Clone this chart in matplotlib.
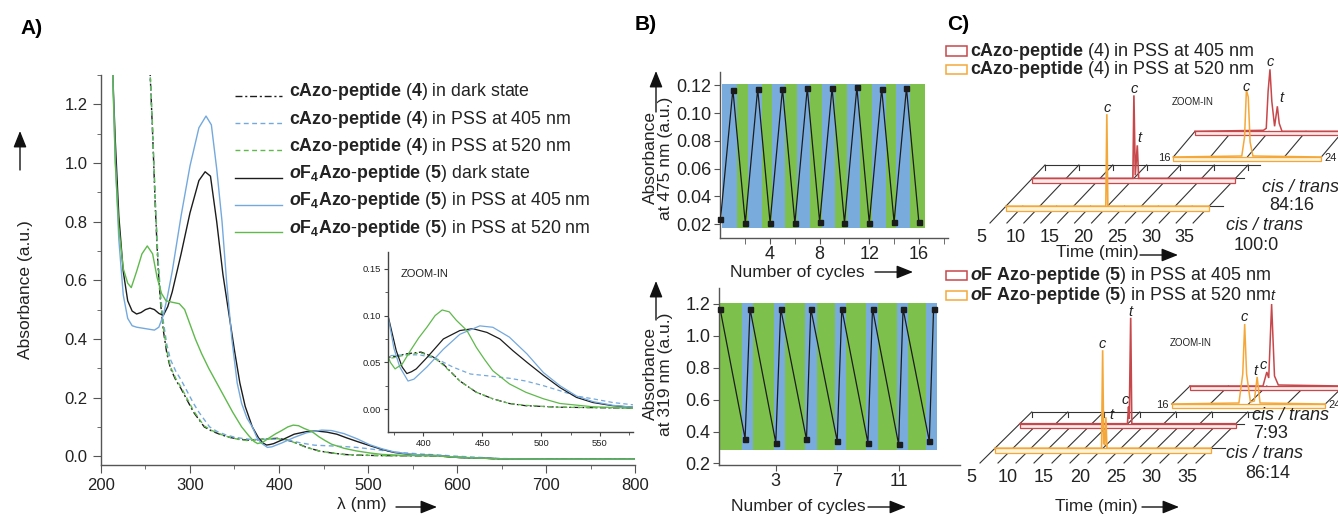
import matplotlib
matplotlib.use('Agg')
import matplotlib.pyplot as plt
from matplotlib.lines import Line2D
from matplotlib.patches import Rectangle, FancyArrowPatch
from matplotlib.transforms import Affine2D
from matplotlib.ticker import MultipleLocator, FormatStrFormatter, FixedLocator

plt.rcParams['font.family'] = ['Liberation Sans', 'DejaVu Sans']
plt.rcParams['mathtext.fontset'] = 'custom'
plt.rcParams['mathtext.rm'] = 'Liberation Sans'
plt.rcParams['mathtext.bf'] = 'Liberation Sans:bold'
plt.rcParams['mathtext.it'] = 'Liberation Sans:italic'
plt.rcParams['mathtext.bfit'] = 'Liberation Sans:italic:bold'

# ================= Panel A : UV-vis spectra =================
wl_c4_dark = [255, 258, 261, 264, 267, 270, 274, 278, 284, 290, 297, 304, 310, 316, 325, 335, 345, 355, 365, 375,
              385, 398, 408, 417, 431, 445, 459, 473, 487, 516, 578, 600, 650, 700, 800]
abs_c4_dark = [1.32, 1.10, 0.85, 0.65, 0.52, 0.43, 0.35, 0.30, 0.26, 0.23, 0.19, 0.15, 0.125, 0.10, 0.085, 0.073,
               0.064, 0.058, 0.055, 0.056, 0.059, 0.061, 0.056, 0.048, 0.030, 0.018, 0.011, 0.006, 0.0036, 0.002,
               0.001, -0.004, -0.009, -0.010, -0.010]

wl_c4_405 = [255, 258, 261, 264, 267, 270, 274, 278, 284, 290, 297, 304, 310, 316, 322, 330, 340, 350, 360, 370,
             383, 397, 411, 425, 440, 459, 473, 487, 502, 516, 530, 544, 561, 578, 600, 650, 700, 800]
abs_c4_405 = [1.32, 1.10, 0.87, 0.68, 0.55, 0.46, 0.38, 0.33, 0.29, 0.26, 0.22, 0.18, 0.15, 0.125, 0.10, 0.085,
              0.073, 0.065, 0.060, 0.057, 0.058, 0.058, 0.054, 0.045, 0.0375, 0.035, 0.033, 0.030, 0.025, 0.0196,
              0.014, 0.011, 0.007, 0.0046, 0.000, -0.008, -0.010, -0.010]

wl_c4_520 = [255, 258, 261, 264, 267, 270, 274, 278, 284, 290, 297, 304, 310, 316, 325, 335, 345, 355, 365, 375,
             385, 398, 408, 417, 431, 445, 459, 473, 487, 516, 578, 600, 650, 700, 800]
abs_c4_520 = [1.32, 1.12, 0.87, 0.66, 0.53, 0.44, 0.36, 0.305, 0.265, 0.235, 0.195, 0.155, 0.128, 0.103, 0.087,
              0.074, 0.064, 0.057, 0.053, 0.055, 0.058, 0.060, 0.056, 0.047, 0.030, 0.018, 0.011, 0.006, 0.004,
              0.002, 0.001, -0.004, -0.009, -0.010, -0.010]

wl_f5_dark = [213, 216, 220, 225, 230, 235, 240, 245, 250, 255, 260, 265, 270, 275, 280, 290, 300, 310, 317, 323,
              330, 337, 344, 350, 356, 362, 370, 377, 382, 386, 390, 394, 403, 417, 431, 442, 454, 465, 476, 488,
              502, 516, 530, 544, 561, 578, 600, 650, 700, 800]
abs_f5_dark = [1.32, 1.08, 0.82, 0.63, 0.53, 0.495, 0.485, 0.49, 0.50, 0.505, 0.50, 0.487, 0.48, 0.51, 0.56, 0.69,
               0.83, 0.94, 0.97, 0.955, 0.80, 0.62, 0.48, 0.36, 0.25, 0.17, 0.10, 0.0625, 0.045, 0.038, 0.040,
               0.043, 0.055, 0.075, 0.084, 0.086, 0.082, 0.075, 0.0625, 0.050, 0.036, 0.023, 0.0125, 0.007,
               0.0036, 0.002, -0.004, -0.009, -0.010, -0.010]

wl_f5_405 = [213, 216, 220, 225, 230, 235, 240, 250, 260, 265, 270, 275, 280, 290, 300, 310, 318, 324, 330, 336,
             341, 347, 353, 358, 364, 370, 375, 380, 387, 392, 403, 417, 431, 448, 459, 473, 488, 502, 516, 530,
             544, 561, 578, 600, 650, 700, 800]
abs_f5_405 = [1.32, 1.02, 0.74, 0.55, 0.47, 0.445, 0.44, 0.435, 0.43, 0.44, 0.48, 0.55, 0.63, 0.82, 0.99, 1.12,
              1.16, 1.13, 0.98, 0.80, 0.60, 0.40, 0.25, 0.18, 0.13, 0.10, 0.065, 0.045, 0.030, 0.032, 0.045, 0.064,
              0.080, 0.089, 0.0875, 0.077, 0.059, 0.039, 0.025, 0.014, 0.008, 0.004, 0.002, -0.003, -0.009,
              -0.010, -0.010]

wl_f5_520 = [213, 216, 220, 225, 230, 234, 240, 246, 252, 258, 263, 268, 273, 280, 288, 294, 300, 306, 313, 321,
             330, 339, 348, 358, 366, 372, 376, 382, 389, 396, 403, 410, 416, 422, 428, 437, 445, 452, 459, 473,
             487, 502, 516, 544, 578, 600, 650, 700, 800]
abs_f5_520 = [1.32, 1.00, 0.78, 0.64, 0.59, 0.575, 0.63, 0.69, 0.717, 0.69, 0.61, 0.555, 0.53, 0.525, 0.52, 0.50,
              0.45, 0.40, 0.35, 0.30, 0.25, 0.20, 0.15, 0.10, 0.07, 0.05, 0.043, 0.048, 0.0625, 0.076, 0.0875,
              0.100, 0.106, 0.104, 0.095, 0.084, 0.066, 0.053, 0.041, 0.027, 0.018, 0.011, 0.006, 0.0025, 0.001,
              -0.004, -0.009, -0.010, -0.010]

labels_A = [
    r"$\mathbf{cAzo}$-$\mathbf{peptide}$ ($\mathbf{4}$) in dark state",
    r"$\mathbf{cAzo}$-$\mathbf{peptide}$ ($\mathbf{4}$) in PSS at 405 nm",
    r"$\mathbf{cAzo}$-$\mathbf{peptide}$ ($\mathbf{4}$) in PSS at 520 nm",
    r"$\mathbfit{o}\mathbf{F}_{\mathbf{4}}\mathbf{Azo}$-$\mathbf{peptide}$ ($\mathbf{5}$) dark state",
    r"$\mathbfit{o}\mathbf{F}_{\mathbf{4}}\mathbf{Azo}$-$\mathbf{peptide}$ ($\mathbf{5}$) in PSS at 405 nm",
    r"$\mathbfit{o}\mathbf{F}_{\mathbf{4}}\mathbf{Azo}$-$\mathbf{peptide}$ ($\mathbf{5}$) in PSS at 520 nm",
]

# ================= Panel B : switching cycles =================
cycles_475 = [0, 1, 2, 3, 4, 5, 6, 7, 8, 9, 10, 11, 12, 13, 14, 15, 16]
abs_475 = [0.0236, 0.117, 0.0207, 0.1175, 0.021, 0.1175, 0.0207, 0.118, 0.0215, 0.118, 0.021, 0.1185, 0.021,
           0.1175, 0.0215, 0.118, 0.0215]
bands_475 = [0.1, 1.31, 2.24, 3.32, 4.13, 5.2, 6.15, 7.22, 8.16, 9.23, 10.18, 11.25, 12.19, 13.35, 14.15, 15.28, 16.49]

cycles_319 = [-0.63, 1, 1.32, 3, 3.32, 5, 5.28, 7, 7.3, 9, 9.3, 11, 11.29, 13, 13.28]
abs_319 = [1.17, 0.355, 1.17, 0.33, 1.17, 0.35, 1.17, 0.34, 1.17, 0.33, 1.17, 0.32, 1.17, 0.34, 1.17]
bands_319 = [-0.63, 0.82, 1.54, 2.89, 3.61, 4.91, 5.68, 6.87, 7.59, 8.89, 9.63, 10.89, 11.59, 12.79, 13.5]

# ================= Panel C : HPLC traces =================
c4_405_t = [5, 19.85, 20.0, 20.2, 20.5, 20.7, 35]
c4_405_I = [0, 0, 83, 3, 33, 0, 0]
c4_520_t = [5, 19.75, 19.9, 20.05, 35]
c4_520_I = [0, 0, 92, 0, 0]
c4_405_zoom_t = [16, 19.7, 19.85, 19.95, 20.05, 20.15, 20.3, 20.45, 20.55, 20.7, 24]
c4_405_zoom_I = [0, 1, 3, 40, 62, 30, 5, 25, 8, 0, 0]
c4_520_zoom_t = [16, 19.7, 19.85, 19.95, 20.05, 20.15, 20.3, 24]
c4_520_zoom_I = [0, 1, 20, 67, 60, 15, 1, 0]
f5_405_t = [5, 19.95, 20.1, 20.2, 20.4, 20.55, 35]
f5_405_I = [0, 0, 17, 5, 106, 0, 0]
f5_520_t = [5, 19.8, 19.95, 20.1, 20.25, 20.4, 20.55, 35]
f5_520_I = [0, 0, 98, 5, 3, 31, 0, 0]
f5_405_zoom_t = [16, 19.8, 20.0, 20.1, 20.25, 20.4, 20.6, 24]
f5_405_zoom_I = [0, 0, 14, 8, 82, 10, 1, 0]
f5_520_zoom_t = [16, 19.5, 19.7, 19.8, 19.9, 20.1, 20.3, 20.45, 20.6, 24]
f5_520_zoom_I = [0, 1, 30, 80, 30, 2, 3, 27, 1, 0]
time_ticks = [5, 10, 15, 20, 25, 30, 35]
zoom_ticks = [16, 18, 20, 22, 24]

# ================= figure =================
W, H = 1338, 517
fig = plt.figure(figsize=(W / 100, H / 100), dpi=100)
fig.patch.set_facecolor('white')


def px_axes(l, t, r, b):
    return fig.add_axes([l / W, 1 - b / H, (r - l) / W, (b - t) / H])


def F(x, y):
    return (x / W, 1 - y / H)


def ftext(x, y, s, **kw):
    return fig.text(x / W, 1 - y / H, s, **kw)


def arrow(x0, y0, x1, y1):
    fig.add_artist(FancyArrowPatch(F(x0, y0), F(x1, y1), transform=fig.transFigure,
                                   arrowstyle='-|>,head_length=1.0,head_width=0.4', mutation_scale=10,
                                   color='#111111', lw=1.0, shrinkA=0, shrinkB=0))


AX_GRAY = '#555555'
BLACK = '#1c1c1c'
BLUE = '#74a9dd'
GREEN = '#5fb94c'
BAND_BLUE = '#79acdc'
BAND_GREEN = '#7dc04b'
RED = '#c8474a'
ORANGE = '#f5a83a'
RED_FILL = '#fbeaea'
ORANGE_FILL = '#fef3dc'

dashdot = (0, (5, 2, 1.5, 2))
dashed = (0, (3.5, 2.5))
series_A = [
    (wl_c4_dark, abs_c4_dark, BLACK, dashdot),
    (wl_c4_405, abs_c4_405, BLUE, dashed),
    (wl_c4_520, abs_c4_520, GREEN, dashed),
    (wl_f5_dark, abs_f5_dark, BLACK, '-'),
    (wl_f5_405, abs_f5_405, BLUE, '-'),
    (wl_f5_520, abs_f5_520, GREEN, '-'),
]


def style_axes(ax, fs, color=AX_GRAY):
    for s in ('top', 'right'):
        ax.spines[s].set_visible(False)
    for s in ('left', 'bottom'):
        ax.spines[s].set_color(color)
        ax.spines[s].set_linewidth(1.0)
    ax.tick_params(which='both', direction='out', color=color, labelsize=fs, labelcolor='#222222')


# ---------- Panel A ----------
axA = px_axes(101, 75, 635, 465)
for wl, a, c, ls in series_A:
    axA.plot(wl, a, color=c, ls=ls, lw=1.0)
axA.set_xlim(200, 800)
axA.set_ylim(-0.03, 1.30)
style_axes(axA, 12)
axA.xaxis.set_major_locator(MultipleLocator(100))
axA.xaxis.set_minor_locator(MultipleLocator(50))
axA.yaxis.set_major_locator(MultipleLocator(0.2))
axA.yaxis.set_minor_locator(MultipleLocator(0.1))
axA.yaxis.set_major_formatter(FormatStrFormatter('%.1f'))
axA.tick_params(which='major', length=6)
axA.tick_params(which='minor', length=3)

for i, ((wl, a, c, ls), lab) in enumerate(zip(series_A, labels_A)):
    y = 92 + i * 27.2
    fig.add_artist(Line2D([235 / W, 282 / W], [1 - (y + 4) / H] * 2, color=c, ls=ls, lw=1.0))
    ftext(289, y, lab, fontsize=12.8, va='center', ha='left', color='#222222')

axI = px_axes(388, 252, 633, 432)
for wl, a, c, ls in series_A:
    axI.plot(wl, a, color=c, ls=ls, lw=0.9)
axI.set_xlim(370, 578)
axI.set_ylim(-0.0245, 0.168)
style_axes(axI, 6.8, color='#444444')
axI.xaxis.set_major_locator(MultipleLocator(50))
axI.xaxis.set_minor_locator(MultipleLocator(25))
axI.yaxis.set_major_locator(MultipleLocator(0.05))
axI.yaxis.set_minor_locator(MultipleLocator(0.025))
axI.yaxis.set_major_formatter(FormatStrFormatter('%.2f'))
axI.tick_params(which='major', length=3, pad=2)
axI.tick_params(which='minor', length=2)
axI.patch.set_alpha(0)
axI.text(0.05, 0.88, 'ZOOM-IN', transform=axI.transAxes, fontsize=8, color='#222222', va='center')

ftext(20, 28, 'A)', fontsize=15, fontweight='bold', va='center')
ftext(26, 290, 'Absorbance (a.u.)', fontsize=12.5, rotation=90, va='center', ha='center', color='#222222')
arrow(20, 170, 20, 131)
ftext(362, 505, 'λ (nm)', fontsize=12.5, va='center', ha='center', color='#222222')
arrow(396, 507, 437, 507)

# ---------- Panel B ----------
axB1 = px_axes(720, 72, 948, 238)
for i in range(len(bands_475) - 1):
    axB1.fill_between([bands_475[i], bands_475[i + 1]], 0.0171, 0.1212,
                      color=BAND_BLUE if i % 2 == 0 else BAND_GREEN, lw=0, zorder=1)
axB1.plot(cycles_475, abs_475, color=BLACK, lw=0.9, marker='s', ms=3.6, zorder=3, clip_on=False)
axB1.set_xlim(-0.04, 18.35)
axB1.set_ylim(0.0101, 0.1296)
style_axes(axB1, 13)
axB1.xaxis.set_major_locator(FixedLocator([4, 8, 12, 16]))
axB1.xaxis.set_minor_locator(FixedLocator([2, 6, 10, 14, 18]))
axB1.yaxis.set_major_locator(MultipleLocator(0.02))
axB1.yaxis.set_major_formatter(FormatStrFormatter('%.2f'))
axB1.tick_params(which='both', length=4, pad=2)

axB2 = px_axes(719, 288, 960, 465)
for i in range(len(bands_319) - 1):
    axB2.fill_between([bands_319[i], bands_319[i + 1]], 0.284, 1.204,
                      color=BAND_GREEN if i % 2 == 0 else BAND_BLUE, lw=0, zorder=1)
axB2.plot(cycles_319, abs_319, color=BLACK, lw=0.9, marker='s', ms=3.6, zorder=3, clip_on=False)
axB2.set_xlim(-0.70, 15.0)
axB2.set_ylim(0.19, 1.30)
style_axes(axB2, 13)
axB2.xaxis.set_major_locator(FixedLocator([3, 7, 11]))
axB2.yaxis.set_major_locator(MultipleLocator(0.2))
axB2.yaxis.set_major_formatter(FormatStrFormatter('%.1f'))
axB2.tick_params(which='both', length=4, pad=2)

ftext(635, 25, 'B)', fontsize=15, fontweight='bold', va='center')
ftext(658, 158, 'Absorbance\nat 475 nm (a.u.)', fontsize=12.5, rotation=90, va='center', ha='center',
      multialignment='center', linespacing=1.05, color='#222222')
arrow(656, 112, 656, 71)
ftext(797, 272, 'Number of cycles', fontsize=12.5, va='center', ha='center', color='#222222')
arrow(875, 272, 913, 272)
ftext(658, 374, 'Absorbance\nat 319 nm (a.u.)', fontsize=12.5, rotation=90, va='center', ha='center',
      multialignment='center', linespacing=1.05, color='#222222')
arrow(656, 320, 656, 281)
ftext(798, 507, 'Number of cycles', fontsize=12.5, va='center', ha='center', color='#222222')
arrow(868, 507, 906, 507)

# ---------- Panel C ----------
PT = 0.72


def depth_tr(ax, d, dx, dy):
    return Affine2D().translate(d * dx, d * dy) + ax.transData


def floor(ax, majors, minors, dx, dy, d_minor, t_back_end, labels=True):
    kw = dict(color='#333333', lw=0.8, zorder=1)
    for t in majors:
        ax.plot([t, t + dx], [0, dy], **kw)
        ax.plot([t + dx, t + dx], [dy, dy - 5], **kw)
    for t in minors:
        ax.plot([t, t + d_minor * dx], [0, d_minor * dy], **kw)
    ax.plot([majors[0] + dx, t_back_end + dx], [dy, dy], **kw)
    if labels:
        for t in majors:
            ax.annotate(str(t), xy=(t, 0), xytext=(-8.3 * PT, -15 * PT), textcoords='offset points',
                        ha='center', va='center', fontsize=13, color='#222222')


def trace(ax, t, I, d, dx, dy, color, fill, t0, t1, rh, lw=1.2):
    tr = depth_tr(ax, d, dx, dy)
    ax.add_patch(Rectangle((t0, -rh), t1 - t0, rh, transform=tr, fc=fill, ec=color, lw=0.9, zorder=3))
    ax.plot(t, I, transform=tr, color=color, lw=lw, zorder=4, solid_joinstyle='miter')
    return tr


def peak_label(ax, tr, t, I, s, ox, oy):
    ax.annotate(s, xy=(t, I), xycoords=tr, xytext=(ox * PT, oy * PT), textcoords='offset points',
                ha='center', va='center', fontsize=10.5, style='italic', color='#222222', zorder=5)


D_OR, D_RED = 0.29, 0.77

axC1 = px_axes(940, 0, 1338, 260)
axC1.set_xlim(-2.385, 56.40)
axC1.set_ylim(-37, 223)
axC1.axis('off')
dx1, dy1 = 55 / 6.77, 58
floor(axC1, time_ticks, [7.5, 12.5, 17.5, 22.5, 27.5, 32.5], dx1, dy1, D_OR, 36.8)
tr_r = trace(axC1, c4_405_t, c4_405_I, D_RED, dx1, dy1, RED, RED_FILL, 5, 35, 4.5)
tr_o = trace(axC1, c4_520_t, c4_520_I, D_OR, dx1, dy1, ORANGE, ORANGE_FILL, 5, 35, 4.5)
peak_label(axC1, tr_o, 19.9, 92, 'c', 0, 6)
peak_label(axC1, tr_r, 20.0, 83, 'c', 0, 6.5)
peak_label(axC1, tr_r, 20.5, 33, 't', 2.5, 7)
axC1.plot([35, 37], [0, 0], transform=tr_o, color='#333333', lw=0.8)
axC1.plot([35, 36.2], [0, 0], transform=tr_r, color='#333333', lw=0.8)

axC2 = px_axes(1150, 40, 1338, 175)
axC2.set_xlim(14.74, 24.90)
axC2.set_ylim(-18, 117)
axC2.axis('off')
dxz, dyz = 21.7 / 18.5, 25.7
for t in zoom_ticks:
    axC2.plot([t, t + dxz], [0, dyz], color='#333333', lw=0.8, zorder=1)
tz_r = trace(axC2, c4_405_zoom_t, c4_405_zoom_I, 1.0, dxz, dyz, RED, RED_FILL, 16, 24, 3.5, lw=1.1)
tz_o = trace(axC2, c4_520_zoom_t, c4_520_zoom_I, 0.0, dxz, dyz, ORANGE, ORANGE_FILL, 16, 24, 3.5, lw=1.1)
peak_label(axC2, tz_o, 19.95, 67, 'c', 0, 3)
peak_label(axC2, tz_r, 20.05, 62, 'c', 0, 7.5)
peak_label(axC2, tz_r, 20.45, 25, 't', 4.5, 8.5)
axC2.annotate('16', xy=(16, 0), xytext=(-2, -1), textcoords='offset points', ha='right', va='center',
              fontsize=8, color='#222222')
axC2.annotate('24', xy=(24, 0), xytext=(2, -1), textcoords='offset points', ha='left', va='center',
              fontsize=8, color='#222222')
ftext(1172, 102, 'ZOOM-IN', fontsize=7, va='center', ha='left', color='#222222')

axC3 = px_axes(940, 280, 1338, 517)
axC3.set_xlim(-0.556, 54.72)
axC3.set_ylim(-54, 183)
axC3.axis('off')
dx3, dy3 = 51.7 / 7.2, 51
floor(axC3, time_ticks, [7.5, 12.5, 17.5, 22.5, 27.5, 32.5], dx3, dy3, D_RED, 37.0)
tr_r3 = trace(axC3, f5_405_t, f5_405_I, D_RED, dx3, dy3, RED, RED_FILL, 5, 35, 4.5)
tr_o3 = trace(axC3, f5_520_t, f5_520_I, D_OR, dx3, dy3, ORANGE, ORANGE_FILL, 5, 35, 4.5)
peak_label(axC3, tr_o3, 19.95, 98, 'c', 0, 6)
peak_label(axC3, tr_o3, 20.4, 31, 't', 5.5, 2)
peak_label(axC3, tr_r3, 20.1, 17, 'c', -3.5, 7)
peak_label(axC3, tr_r3, 20.4, 106, 't', 0, 6)
axC3.plot([35, 36.9], [0, 0], transform=tr_o3, color='#333333', lw=0.8)
axC3.plot([35, 36.2], [0, 0], transform=tr_r3, color='#333333', lw=0.8)

axC4 = px_axes(1150, 290, 1338, 420)
axC4.set_xlim(14.87, 24.66)
axC4.set_ylim(-16, 114)
axC4.axis('off')
dxz4, dyz4 = 18.3 / 19.2, 18
for t in zoom_ticks:
    axC4.plot([t, t + dxz4], [0, dyz4], color='#333333', lw=0.8, zorder=1)
tz_r4 = trace(axC4, f5_405_zoom_t, f5_405_zoom_I, 1.0, dxz4, dyz4, RED, RED_FILL, 16, 24, 3.5, lw=1.1)
tz_o4 = trace(axC4, f5_520_zoom_t, f5_520_zoom_I, 0.0, dxz4, dyz4, ORANGE, ORANGE_FILL, 16, 24, 3.5, lw=1.1)
peak_label(axC4, tz_o4, 19.8, 80, 'c', 0, 7)
peak_label(axC4, tz_o4, 20.45, 27, 't', -2, 6)
peak_label(axC4, tz_r4, 20.0, 14, 'c', -3.5, 7)
peak_label(axC4, tz_r4, 20.25, 82, 't', 0.5, 8.5)
axC4.annotate('16', xy=(16, 0), xytext=(-2, -1), textcoords='offset points', ha='right', va='center',
              fontsize=8, color='#222222')
axC4.annotate('24', xy=(24, 0), xytext=(2, -1), textcoords='offset points', ha='left', va='center',
              fontsize=8, color='#222222')
ftext(1170, 343, 'ZOOM-IN', fontsize=7, va='center', ha='left', color='#222222')

ftext(947, 25, 'C)', fontsize=15, fontweight='bold', va='center')
legend_C = [
    (RED, 51, r"$\mathbf{cAzo}$-$\mathbf{peptide}$ (4) in PSS at 405 nm"),
    (ORANGE, 69.5, r"$\mathbf{cAzo}$-$\mathbf{peptide}$ (4) in PSS at 520 nm"),
    (RED, 275, r"$\mathbfit{o}\mathbf{F}$ $\mathbf{Azo}$-$\mathbf{peptide}$ ($\mathbf{5}$) in PSS at 405 nm"),
    (ORANGE, 295, r"$\mathbfit{o}\mathbf{F}$ $\mathbf{Azo}$-$\mathbf{peptide}$ ($\mathbf{5}$) in PSS at 520 nm"),
]
for col, y, lab in legend_C:
    fig.add_artist(Rectangle(F(946, y + 4.5), 21 / W, 9 / H, transform=fig.transFigure,
                             fc='white', ec=col, lw=1.1))
    ftext(970, y, lab, fontsize=12.9, va='center', ha='left', color='#222222')

for x, y, s, it in [(1300, 188, 'cis / trans', True), (1292, 206, '84:16', False),
                    (1264, 226, 'cis / trans', True), (1256, 246, '100:0', False),
                    (1290, 416, 'cis / trans', True), (1271, 433, '7:93', False),
                    (1264, 453, 'cis / trans', True), (1268, 473, '86:14', False)]:
    ftext(x, y, s, fontsize=13, va='center', ha='center', style='italic' if it else 'normal',
          color='#222222')

ftext(1097, 252, 'Time (min)', fontsize=12.5, va='center', ha='center', color='#222222')
arrow(1140, 255, 1178, 255)
ftext(1096, 507, 'Time (min)', fontsize=12.5, va='center', ha='center', color='#222222')
arrow(1142, 507, 1179, 507)

fig.savefig('out.png', dpi=100, facecolor='white')
